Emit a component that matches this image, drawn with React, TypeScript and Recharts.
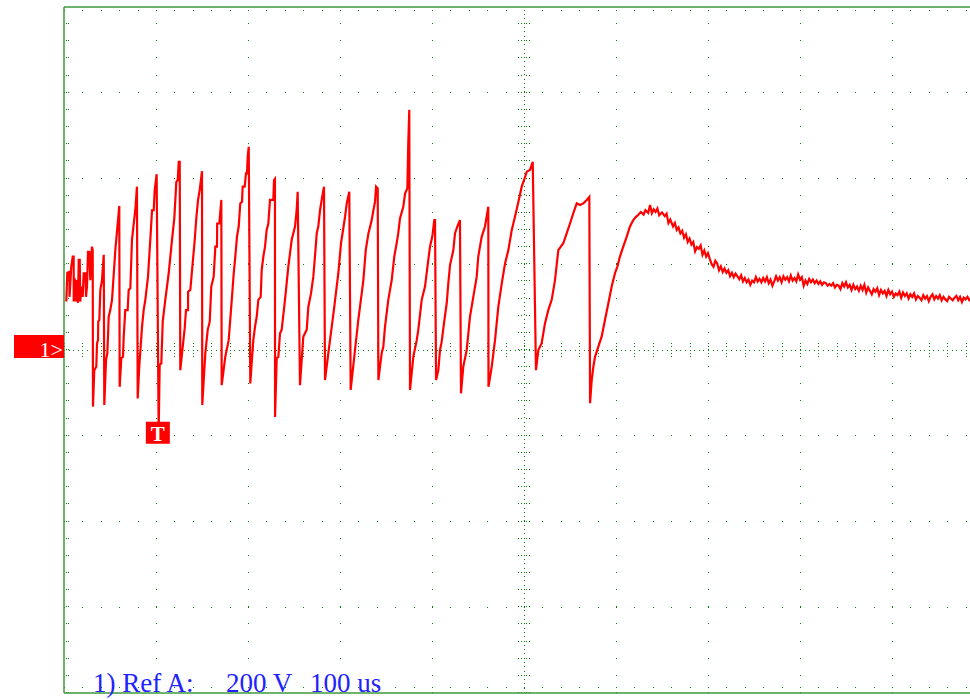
import { LineChart, Line, XAxis, YAxis, ReferenceLine, ReferenceDot } from 'recharts'

// scope screen: 10 x 8 divisions, 100 us/div, 200 V/div
const timeGrid = [100, 200, 300, 400, 600, 700, 800, 900]
const voltGrid = [-600, -400, -200, 200, 400, 600]

// [time us, volts]
const burst: [number, number][] = [
  [2.5, 113], [3.6, 180], [5.8, 182], [6, 124], [7.9, 194], [9.5, 218], [10.5, 218], [10.6, 113],
  [11.6, 167], [13, 113], [14.1, 163], [15.2, 110], [16, 210], [17.1, 210], [17.7, 113], [18.8, 148],
  [20.3, 124], [21.4, 179], [23.2, 179], [23.9, 124], [25, 148], [26.1, 229], [27.5, 229], [28.6, 163],
  [30.4, 241], [31.2, 233]
]

const teeth: [number, number][] = [
  [31.5, -132], [32.9, -47], [35.1, -39], [35.9, 16], [37, 23], [37.2, 66], [38.4, 70], [39.5, 140], [41.3, 163], [43.2, 222],
  [43.8, -128], [45.7, -23], [47.1, -8], [48.6, 78], [50.3, 93], [52.2, 117], [55.8, 233], [60.1, 336],
  [60.5, -86], [62.3, -19], [64.1, -16], [64.9, 31], [66.6, 93], [69.2, 93], [70.3, 140], [72.1, 144], [73.9, 257], [75.8, 295], [77.5, 326], [79.3, 381],
  [80.1, -113], [81.8, -39], [84.8, 54], [86.6, 93], [88.4, 117], [91.3, 171], [93.8, 257], [95.7, 326], [97.5, 326], [98.6, 373], [100.7, 410],
  [102.9, -190], [104, -35], [105.8, -31], [107.3, 66], [110.1, 117], [113.8, 179], [117.4, 257], [119.9, 307], [122.1, 392], [123.6, 396], [124.7, 439], [125.8, 439],
  [126.4, -47], [128.3, -8], [131.2, 51], [132.6, 93], [134.8, 93], [134.9, 136], [137.3, 140], [142.1, 257], [143.8, 307], [145.7, 350], [147.5, 373], [150, 417],
  [150.3, -128], [153.6, -8], [156.2, 47], [158.4, 66], [160.1, 148], [162.7, 171], [164.5, 241], [166.3, 241], [166.5, 295], [168.8, 295], [171, 350],
  [171.4, -82], [175.3, -16], [179, 23], [182.6, 124], [184.5, 179], [186.2, 218], [188, 264], [189.9, 288], [191.6, 342], [193.5, 346], [194.2, 381], [196.4, 381], [197.8, 412], [198.9, 412], [199.7, 451], [200.8, 474],
  [202.5, -78], [204, -31], [205.8, 23], [207.6, 54], [209.5, 78], [211.2, 117], [213.8, 124], [214.9, 187], [216.7, 218], [218.5, 241], [220.3, 280], [222.1, 295], [223.9, 350], [227.5, 350], [228.3, 396], [229.3, 399],
  [229.4, -156], [231.2, -19], [233, -16], [234.8, 39], [236.6, 47], [240.2, 117], [243.8, 194], [247.5, 257], [251.1, 288], [252.9, 326], [254, 369],
  [256.5, -82], [260.1, 31], [263.8, 47], [265.6, 101], [268.5, 132], [271, 171], [272.8, 218], [274.7, 272], [276.4, 288], [278.3, 326], [280.1, 350], [282.6, 381],
  [283.7, -70], [287.3, -8], [291, 54], [293.8, 101], [296.4, 148], [298.2, 179], [301.1, 249], [303.6, 284], [305.5, 311], [307.3, 342], [310.1, 369],
  [311.6, -93], [316.3, 0], [319.9, 70], [323.6, 132], [325.4, 163], [328, 233], [330.9, 272], [334.5, 303], [336.3, 326], [338.1, 346], [339.2, 381], [341, 377],
  [341.7, -70], [345.3, -8], [347.1, 8], [348.9, 54], [352.5, 117], [356.2, 163], [359, 218], [361.6, 249], [363.3, 272], [365.2, 307], [368.8, 334], [370.7, 365], [373.2, 377], [374.2, 482], [375.3, 560],
  [376.1, -93], [379.7, -16], [383.4, 23], [385.1, 47], [388.8, 117], [392.4, 148], [396, 210], [397.8, 241], [400.3, 264], [402.5, 303], [403.3, 303],
  [404.4, -70], [406.9, -47], [408.7, 0], [410.5, 19], [413, 62], [416, 109], [417.7, 155], [419.6, 198], [423.2, 233], [425, 272], [427.5, 288], [430.4, 303],
  [431.5, -101], [434, -39], [437.7, 0], [441.3, 78], [444.9, 124], [448.6, 171], [450.3, 218], [454, 264], [457.6, 288], [461.2, 334],
  [461.4, -86], [464.9, -39], [468.5, 23], [472.1, 101], [475.8, 155], [479.4, 202], [483, 233], [486.7, 280], [490.2, 311], [493.9, 346], [497.5, 381], [500, 396], [503, 416], [506.5, 420], [509.5, 439],
  [513, -47], [515.6, 0], [519.2, 16], [522.8, 62], [526.4, 93], [530.1, 117], [533.7, 163], [537.3, 233], [542.7, 249], [546.4, 272], [550, 295], [553.6, 319], [557.3, 342], [560.9, 338], [564.5, 342], [568.2, 350], [571, 357],
  [571.8, -124]
]

const recovery: [number, number][] = [
  [573.6, -70], [575.4, -39], [577.2, -16], [580.8, 8], [584.4, 31], [588, 70], [591.7, 109], [595.3, 148],
  [598.9, 179], [601.4, 194], [604.3, 218], [607.9, 241], [611.6, 264], [615.2, 288], [618.8, 303], [621.5, 310]
]

const tail: [number, number][] = [
  [624, 315], [627, 322], [630, 316], [632, 326], [635, 320], [637, 338], [639, 319], [641, 328], [643, 322], [645, 330],
  [647, 314], [650, 321], [653, 312], [655, 318], [657, 296], [659, 304], [662, 288], [664, 296], [666, 280], [668, 286],
  [670, 272], [672, 278], [674, 262], [676, 270], [678, 252], [680, 260], [682, 246], [684, 252], [686, 230], [688, 240],
  [690, 236], [692, 244], [694, 222], [696, 232], [698, 218], [700, 226], [702, 212], [704, 200], [706, 194], [708, 208],
  [710, 202], [712, 186], [714, 195], [716, 182], [718, 190], [720, 180], [722, 186], [724, 172], [726, 180], [728, 170],
  [730, 178], [732, 172], [734, 165], [736, 174], [738, 160], [740, 168], [742, 158], [744, 164], [746, 152], [748, 162],
  [750, 158], [752, 170], [754, 160], [756, 166], [758, 158], [760, 168], [762, 160], [764, 170], [766, 156], [768, 164],
  [770, 150], [772, 160], [774, 172], [776, 162], [778, 170], [780, 158], [782, 172], [784, 164], [786, 170], [788, 160],
  [790, 174], [792, 162], [794, 168], [796, 160], [798, 176], [800, 164], [802, 170], [804, 150], [806, 162], [808, 154],
  [810, 166], [812, 158], [814, 164], [816, 156], [818, 162], [820, 154], [822, 160], [824, 152], [826, 158], [828, 156],
  [830, 150], [832, 154], [834, 150], [836, 156], [838, 146], [840, 152], [842, 150], [844, 142], [846, 156], [848, 148],
  [850, 158], [852, 146], [854, 152], [856, 140], [858, 152], [860, 142], [862, 148], [864, 138], [866, 150], [868, 140],
  [870, 152], [872, 134], [874, 146], [876, 138], [878, 130], [880, 142], [882, 136], [884, 144], [886, 128], [888, 140],
  [890, 132], [892, 138], [894, 126], [896, 140], [898, 130], [900, 136], [902, 124], [904, 132], [906, 128], [908, 136],
  [910, 122], [912, 134], [914, 126], [916, 132], [918, 120], [920, 130], [922, 124], [924, 132], [926, 118], [928, 126],
  [930, 122], [932, 116], [934, 128], [936, 120], [938, 126], [940, 114], [942, 124], [944, 130], [946, 118], [948, 126],
  [950, 120], [952, 128], [954, 116], [956, 124], [958, 118], [960, 114], [962, 124], [964, 120], [966, 116], [968, 122],
  [970, 126], [972, 116], [974, 124], [976, 112], [978, 122], [980, 118], [982, 124], [984, 116], [986, 120]
]

const trace = [...burst, ...teeth, ...recovery, ...tail].map(([t, v]) => ({ t, v }))

const GRID = '#008000'
const BORDER = '#3d9a3d'
const TRACE = '#ff0000'

function ChannelMarker({ cx, cy }: any) {
  return (
    <g>
      <rect x={cx - 50} y={cy - 15} width={50} height={23} fill={TRACE} />
      <text x={cx - 1} y={cy + 7} textAnchor="end" fill="#fff" fontFamily="Liberation Serif" fontSize={22}>
        1&gt;
      </text>
    </g>
  )
}

function TriggerMarker({ cx, cy }: any) {
  return (
    <g>
      <rect x={cx - 12} y={cy - 14} width={24} height={22} fill={TRACE} />
      <text x={cx} y={cy + 5} textAnchor="middle" fill="#fff" fontFamily="Liberation Serif" fontWeight="bold" fontSize={21}>
        T
      </text>
    </g>
  )
}

export default function App() {
  return (
    <div style={{ position: 'absolute', left: 0, top: 0, width: 970, height: 699, overflow: 'hidden', background: '#fff' }}>
      <LineChart width={990} height={699} data={trace} margin={{ top: 7, right: 6, bottom: 6, left: 64 }}>
        <XAxis dataKey="t" type="number" domain={[0, 1000]} hide />
        <YAxis type="number" domain={[-800, 800]} hide />

        {timeGrid.map((t) => (
          <ReferenceLine key={'vt' + t} x={t} stroke={GRID} strokeDasharray="1 16.15" shapeRendering="crispEdges" />
        ))}
        {voltGrid.map((v) => (
          <ReferenceLine key={'hv' + v} y={v} stroke={GRID} strokeDasharray="1 17.4" shapeRendering="crispEdges" />
        ))}

        {/* centre graticule with fine ticks */}
        <ReferenceLine y={0} stroke={GRID} strokeDasharray="1 3.6" shapeRendering="crispEdges" />
        {[-14, -7, 7, 14].map((d) => (
          <ReferenceLine key={'cy' + d} y={d} stroke={GRID} strokeDasharray="1 17.4" shapeRendering="crispEdges" />
        ))}
        <ReferenceLine x={500} stroke={GRID} strokeDasharray="1 3.29" shapeRendering="crispEdges" />
        {[-5.7, -2.7, 2.7, 5.7].map((d) => (
          <ReferenceLine key={'cx' + d} x={500 + d} stroke={GRID} strokeDasharray="1 16.15" shapeRendering="crispEdges" />
        ))}

        {/* edge ticks */}
        <ReferenceLine y={792} stroke={GRID} strokeDasharray="1 17.4" shapeRendering="crispEdges" />
        <ReferenceLine y={-788} stroke={GRID} strokeDasharray="1 17.4" shapeRendering="crispEdges" />
        <ReferenceLine x={2.2} stroke={GRID} strokeDasharray="1 16.15" shapeRendering="crispEdges" />
        <ReferenceLine x={5.4} stroke={GRID} strokeDasharray="1 16.15" shapeRendering="crispEdges" />

        {/* border */}
        <ReferenceLine x={0} stroke={BORDER} strokeWidth={1.5} />
        <ReferenceLine y={800} stroke={BORDER} strokeWidth={1.5} />
        <ReferenceLine y={-800} stroke={BORDER} strokeWidth={1.5} />

        <Line
          type="linear"
          dataKey="v"
          stroke={TRACE}
          strokeWidth={2.2}
          dot={false}
          isAnimationActive={false}
        />

        <ReferenceDot x={0} y={0} r={0} shape={(p: any) => <ChannelMarker {...p} />} />
        <ReferenceDot x={102} y={-200} r={0} shape={(p: any) => <TriggerMarker {...p} />} />
      </LineChart>

      <svg width={970} height={699} style={{ position: 'absolute', left: 0, top: 0, pointerEvents: 'none' }}>
        <g fill="#2222ff" fontFamily="Liberation Serif" fontSize={27}>
          <text x={93} y={692}>1) Ref A:</text>
          <text x={226} y={692}>200 V</text>
          <text x={310} y={692}>100 us</text>
        </g>
      </svg>
    </div>
  )
}
